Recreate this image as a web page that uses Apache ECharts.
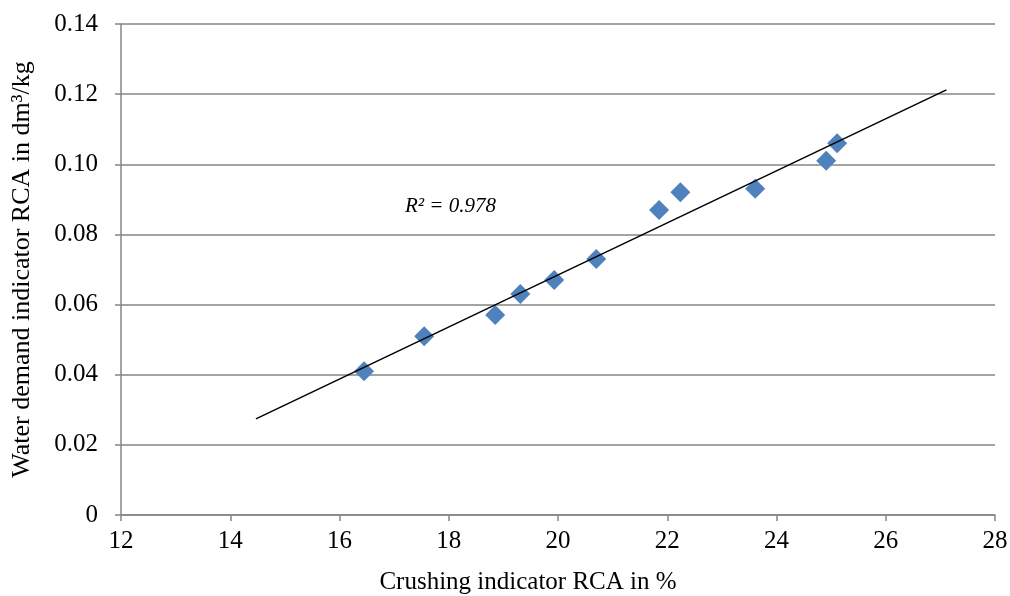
<!DOCTYPE html>
<html>
<head>
<meta charset="utf-8">
<script src="https://cdn.jsdelivr.net/npm/echarts@6/dist/echarts.min.js"></script>
<style>
  html, body { margin: 0; padding: 0; background: #fff; }
  #chart { width: 1010px; height: 596px; }
</style>
</head>
<body>
<div id="chart"></div>
<script>
// measured points (crushing indicator %, water demand dm3/kg)
const crushing = [16.45, 17.55, 18.85, 19.31, 19.93, 20.70, 21.85, 22.24, 23.61, 24.91, 25.11];
const waterDemand = [0.041, 0.051, 0.057, 0.063, 0.067, 0.073, 0.087, 0.092, 0.093, 0.101, 0.106];

// linear trend line end points
const trendX = [14.47, 27.11];
const trendY = [0.0274, 0.1212];

const r2Label = 'R² = 0.978';

const font = 'Liberation Serif, Times New Roman, serif';

const chart = echarts.init(document.getElementById('chart'));

chart.setOption({
  animation: false,
  grid: { left: 121, right: 15, top: 24, bottom: 81, outerBoundsMode: 'none', containLabel: false },
  xAxis: {
    type: 'value',
    min: 12, max: 28, interval: 2,
    name: 'Crushing indicator RCA in %',
    nameLocation: 'middle',
    nameGap: 55,
    nameTextStyle: { fontFamily: font, fontSize: 25, color: '#000', padding: [0, 60, 0, 0] },
    axisLine: { show: true, lineStyle: { color: '#868686', width: 1.5 } },
    axisTick: { show: true, length: 6, lineStyle: { color: '#868686', width: 1.5 } },
    axisLabel: { fontFamily: font, fontSize: 25, color: '#000', margin: 14 },
    splitLine: { show: false }
  },
  yAxis: {
    type: 'value',
    min: 0, max: 0.14, interval: 0.02,
    name: 'Water demand indicator RCA in dm³/kg',
    nameLocation: 'middle',
    nameGap: 86,
    nameTextStyle: { fontFamily: font, fontSize: 26, color: '#000' },
    axisLine: { show: true, lineStyle: { color: '#868686', width: 1.5 } },
    axisTick: { show: true, length: 6, lineStyle: { color: '#868686', width: 1.5 } },
    axisLabel: {
      fontFamily: font, fontSize: 25, color: '#000', margin: 23,
      formatter: v => v === 0 ? '0' : v.toFixed(2)
    },
    splitLine: { show: true, lineStyle: { color: '#868686', width: 1.5 } }
  },
  series: [
    {
      type: 'line',
      data: trendX.map((x, i) => [x, trendY[i]]),
      symbol: 'none',
      lineStyle: { color: '#000', width: 1.5 },
      z: 3
    },
    {
      type: 'scatter',
      data: crushing.map((x, i) => [x, waterDemand[i]]),
      symbol: 'diamond',
      symbolSize: [20, 20],
      itemStyle: { color: '#4F81BD', opacity: 1 },
      z: 2
    }
  ],
  graphic: [{
    type: 'text',
    left: 405,
    top: 196,
    style: {
      text: r2Label,
      fontFamily: font,
      fontSize: 21,
      fontStyle: 'italic',
      fill: '#000'
    }
  }]
});
</script>
</body>
</html>
